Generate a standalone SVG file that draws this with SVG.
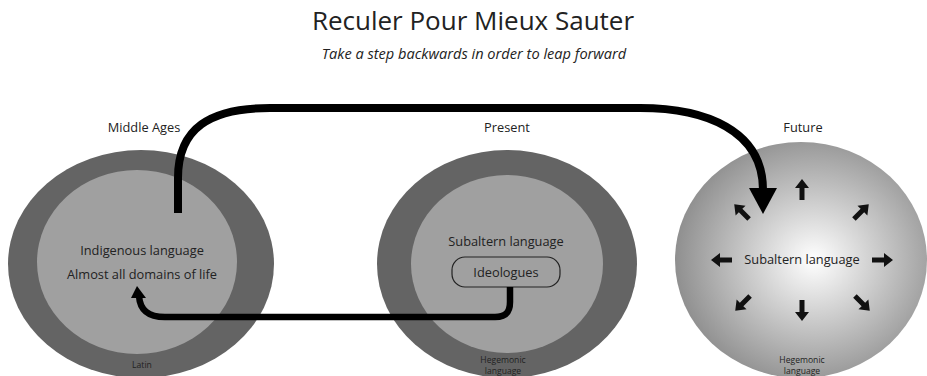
<svg xmlns="http://www.w3.org/2000/svg" width="927" height="376" viewBox="0 0 927 376">
<defs>
<style>
.t{font-family:"Open Sans","Liberation Sans",sans-serif;fill:#222;text-anchor:middle}
.m{font-size:12.8px}
.s{font-size:8.6px}
.outer{fill:#646464}
.inner{fill:#a0a0a0}
.conn{fill:none;stroke:#000;stroke-linecap:butt}
</style>
<radialGradient id="fut" cx="0.55" cy="0.5" r="0.6">
<stop offset="0" stop-color="#ffffff"/>
<stop offset="1" stop-color="#858585"/>
</radialGradient>
<polygon id="sa" points="0,-11 7,-2 2.5,-2 2.5,10 -2.5,10 -2.5,-2 -7,-2" fill="#111"/>
</defs>
<rect width="927" height="376" fill="#fff"/>
<text class="t" x="473" y="30" font-size="26">Reculer Pour Mieux Sauter</text>
<text class="t" x="474" y="59" font-size="14.6" font-style="italic">Take a step backwards in order to leap forward</text>
<g id="middle-ages">
<ellipse class="outer" cx="141" cy="264" rx="133" ry="114"/>
<ellipse class="inner" cx="137" cy="262" rx="100" ry="92"/>
<text class="t m" x="144" y="132">Middle Ages</text>
<text class="t m" x="142" y="255">Indigenous language</text>
<text class="t m" x="142" y="279">Almost all domains of life</text>
<text class="t s" x="142" y="368">Latin</text>
</g>
<g id="present">
<ellipse class="outer" cx="507" cy="264" rx="130" ry="114"/>
<ellipse class="inner" cx="507" cy="264" rx="96" ry="89"/>
<text class="t m" x="507" y="132">Present</text>
<text class="t m" x="506" y="246">Subaltern language</text>
<text class="t s" x="503" y="363">Hegemonic</text>
<text class="t s" x="503" y="374">language</text>
</g>
<g id="ideologues">
<rect x="452" y="257" width="108" height="30" rx="13" fill="none" stroke="#222" stroke-width="1.2"/>
<text class="t m" x="506" y="277">Ideologues</text>
</g>
<g id="future">
<ellipse cx="801" cy="260" rx="126" ry="118" fill="url(#fut)"/>
<text class="t m" x="803" y="132">Future</text>
<text class="t m" x="802" y="264">Subaltern language</text>
<text class="t s" x="802" y="363">Hegemonic</text>
<text class="t s" x="802" y="374">language</text>
<use href="#sa" transform="translate(802,190)"/>
<use href="#sa" transform="translate(742,212) rotate(-45)"/>
<use href="#sa" transform="translate(861,212) rotate(45)"/>
<use href="#sa" transform="translate(722,260) rotate(-90)"/>
<use href="#sa" transform="translate(882,260) rotate(90)"/>
<use href="#sa" transform="translate(743,303) rotate(-135)"/>
<use href="#sa" transform="translate(862,303) rotate(135)"/>
<use href="#sa" transform="translate(802,310) rotate(180)"/>
</g>
<g id="connectors">
<path class="conn" stroke-width="8" d="M178,213 L178,178 C178,128 210,108 270,108 L640,108 C705,108 763,130 763,190"/>
<polygon points="749,188 777,188 763,214" fill="#000"/>
<path class="conn" stroke-width="6.5" d="M510,287 L510,302 C510,313 505,317 495,317 L165,317 C148,317 140,310 139,296"/>
<polygon points="131,298 146,298 137,286" fill="#000"/>
</g>
</svg>
